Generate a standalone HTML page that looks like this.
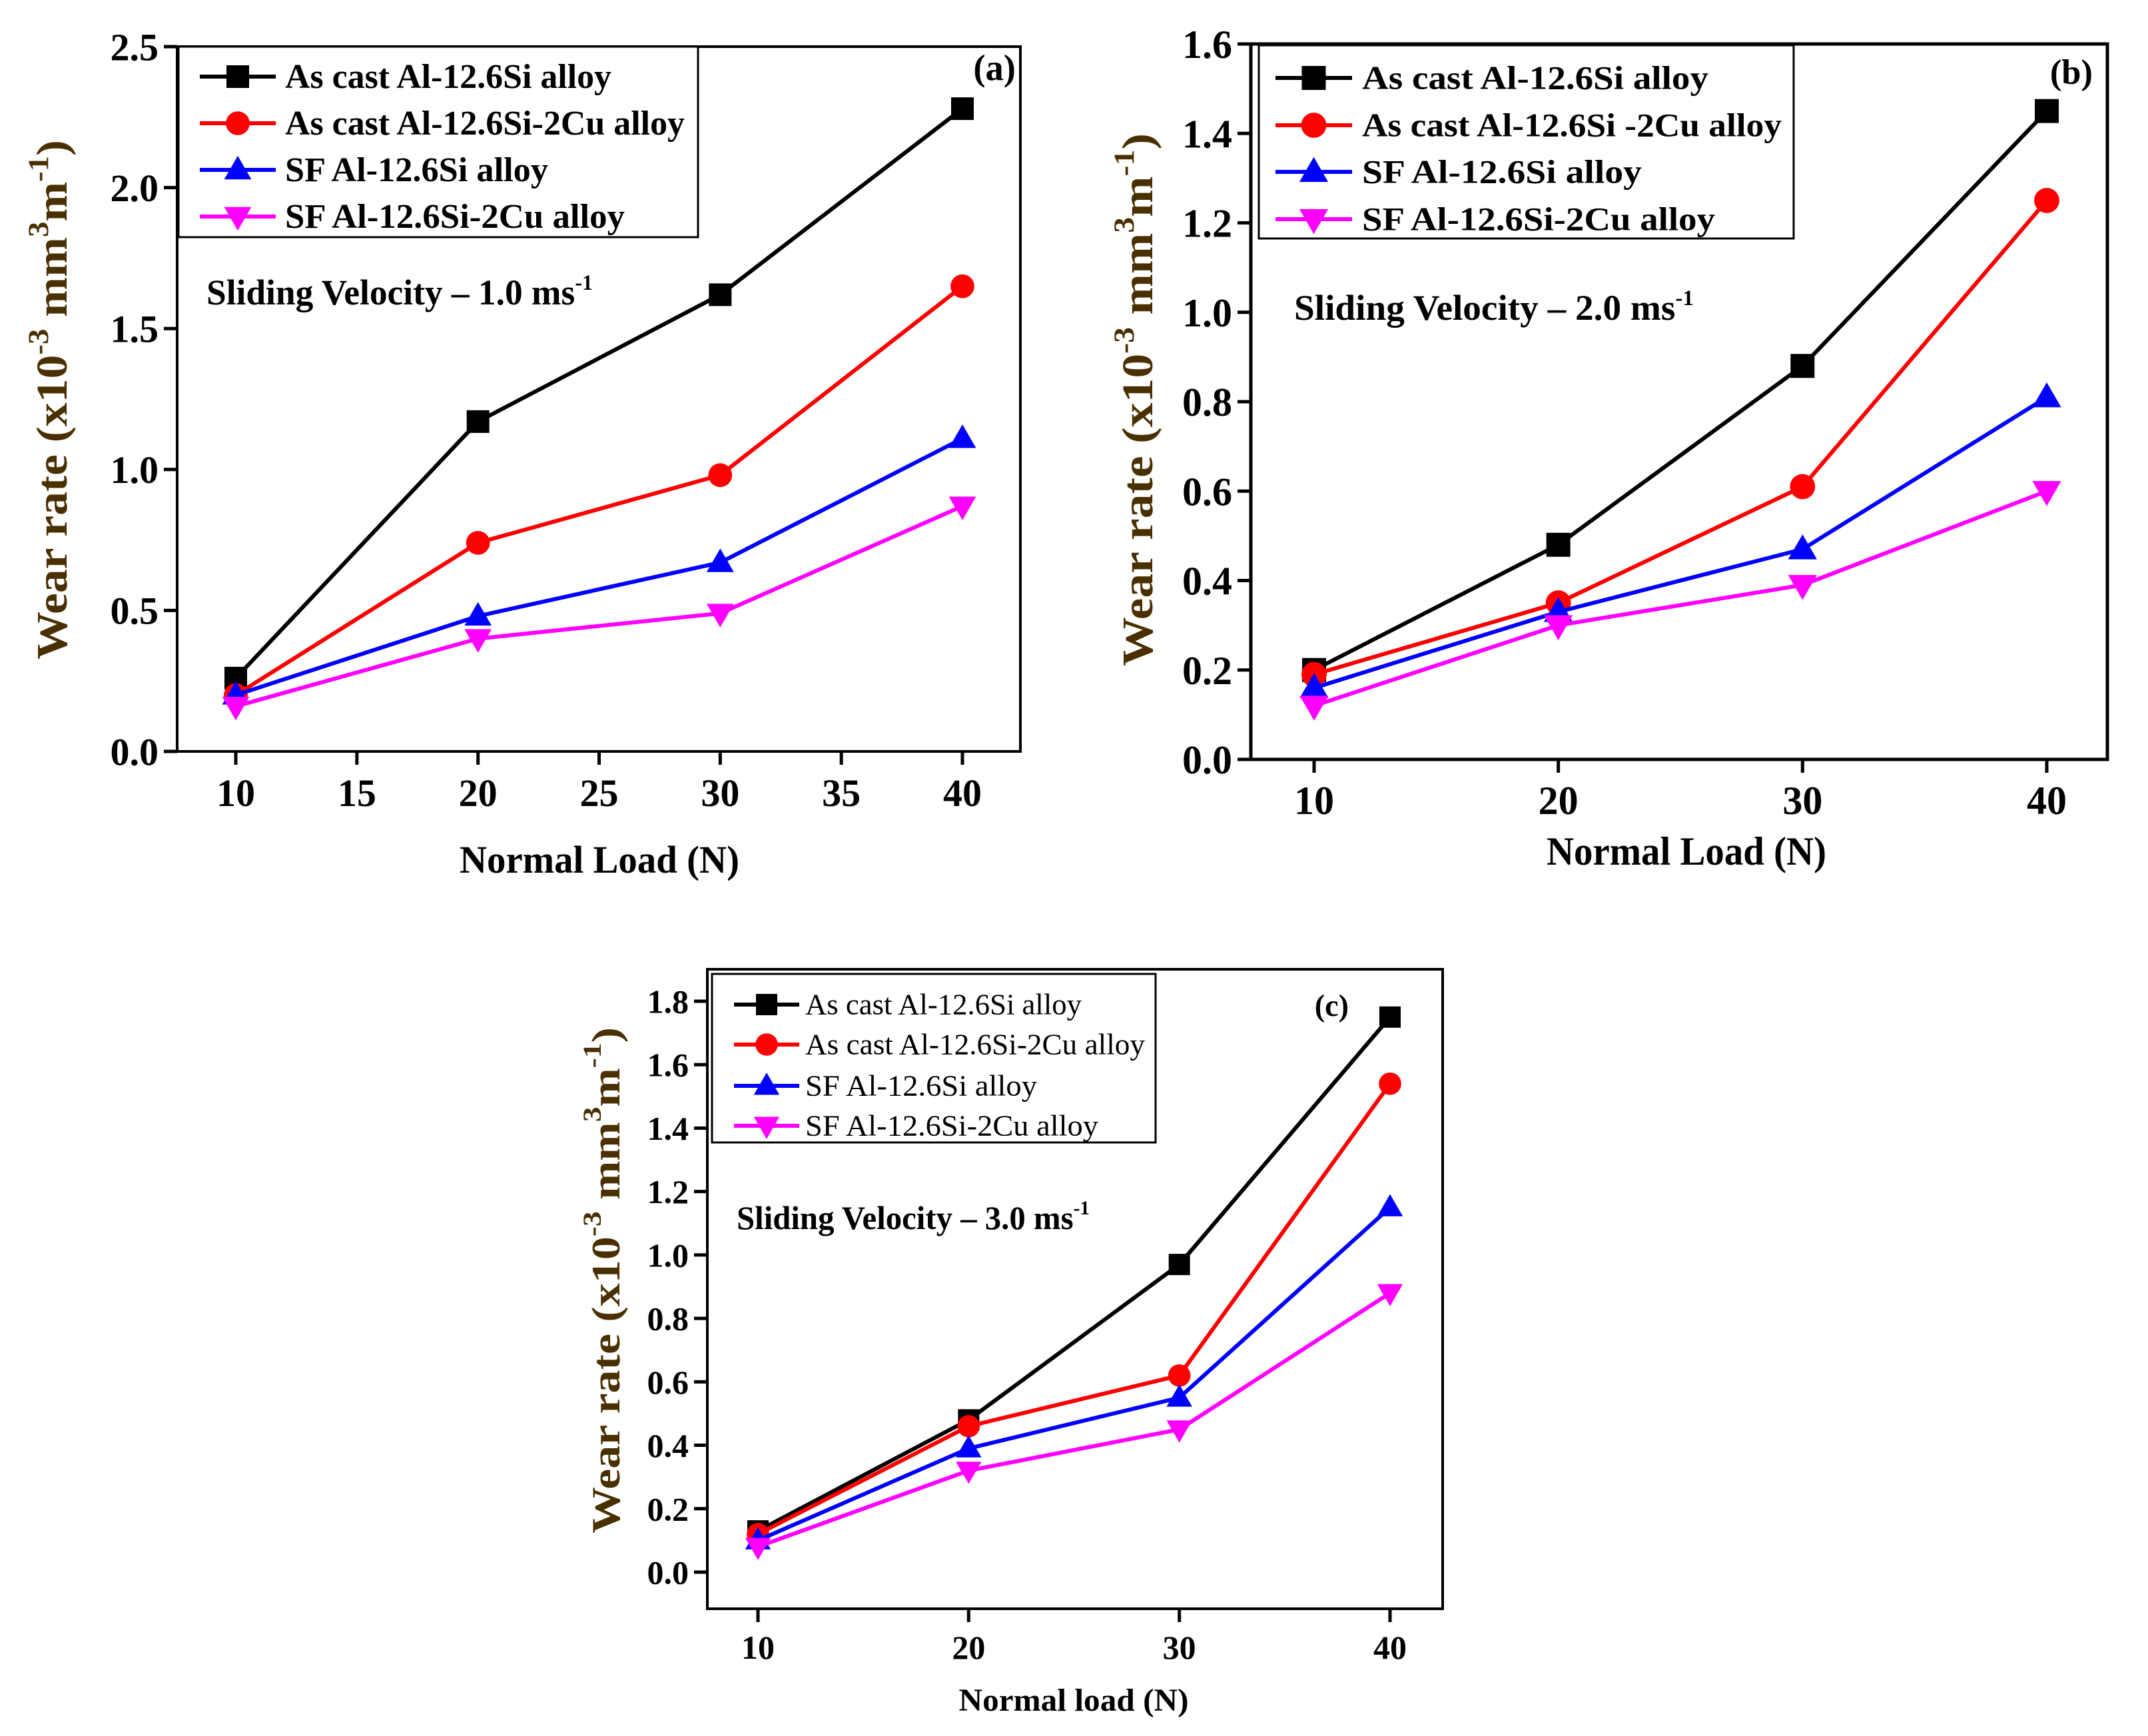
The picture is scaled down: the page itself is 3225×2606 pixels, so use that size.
<!DOCTYPE html>
<html><head><meta charset="utf-8">
<style>
html,body{margin:0;padding:0;background:#fff;}
svg{display:block;}
text{font-family:"Liberation Serif",serif;}
</style></head>
<body>
<svg id="fig" width="3225" height="2606" viewBox="0 0 3225 2606" xmlns="http://www.w3.org/2000/svg"></svg>
<script>
// ---- data ----
const loads = [10, 20, 30, 40];
const seriesNames = ["As cast Al-12.6Si alloy", "As cast Al-12.6Si-2Cu alloy", "SF Al-12.6Si alloy", "SF Al-12.6Si-2Cu alloy"];
const seriesNamesB = ["As cast Al-12.6Si  alloy", "As cast Al-12.6Si -2Cu alloy", "SF  Al-12.6Si alloy", "SF  Al-12.6Si-2Cu alloy"];
const seriesNamesC = ["As cast Al-12.6Si alloy", "As cast Al-12.6Si-2Cu alloy", "SF  Al-12.6Si alloy", "SF  Al-12.6Si-2Cu alloy"];
const aCastSi = [0.26, 1.17, 1.62, 2.28];
const aCastCu = [0.20, 0.74, 0.98, 1.65];
const aSfSi = [0.20, 0.48, 0.67, 1.11];
const aSfCu = [0.16, 0.40, 0.49, 0.87];
const bCastSi = [0.20, 0.48, 0.88, 1.45];
const bCastCu = [0.19, 0.35, 0.61, 1.25];
const bSfSi = [0.16, 0.33, 0.47, 0.81];
const bSfCu = [0.12, 0.30, 0.39, 0.60];
const cCastSi = [0.13, 0.48, 0.97, 1.75];
const cCastCu = [0.12, 0.46, 0.62, 1.54];
const cSfSi = [0.10, 0.39, 0.55, 1.15];
const cSfCu = [0.08, 0.32, 0.45, 0.88];
const aYTicks = ["0.0", "0.5", "1.0", "1.5", "2.0", "2.5"];
const aXTicks = ["10", "15", "20", "25", "30", "35", "40"];
const bYTicks = ["0.0", "0.2", "0.4", "0.6", "0.8", "1.0", "1.2", "1.4", "1.6"];
const bXTicks = ["10", "20", "30", "40"];
const cYTicks = ["0.0", "0.2", "0.4", "0.6", "0.8", "1.0", "1.2", "1.4", "1.6", "1.8"];
const cXTicks = ["10", "20", "30", "40"];

const colors = ["#000000", "#ff0000", "#0000ff", "#ff00ff"];
const markers = ["square", "circle", "up", "down"];
const NS = "http://www.w3.org/2000/svg";
const svg = document.getElementById("fig");

function mk(tag, attrs, parent) {
  const e = document.createElementNS(NS, tag);
  for (const k in attrs) e.setAttribute(k, attrs[k]);
  parent.appendChild(e);
  return e;
}
function marker(g, type, x, y, s, col) {
  let e;
  if (type === "square") e = mk("rect", {x: x - s/2, y: y - s/2, width: s, height: s, fill: col}, g);
  else if (type === "circle") e = mk("circle", {cx: x, cy: y, r: s/2 * 1.05, fill: col}, g);
  else if (type === "up") e = mk("polygon", {points: `${x},${y - s*0.62} ${x - s*0.6},${y + s*0.42} ${x + s*0.6},${y + s*0.42}`, fill: col}, g);
  else e = mk("polygon", {points: `${x},${y + s*0.62} ${x - s*0.6},${y - s*0.42} ${x + s*0.6},${y - s*0.42}`, fill: col}, g);
  
  
  return e;
}

function panel(p) {
  const g = mk("g", {}, svg);
  
  
  const xs = v => p.x0 + (v - p.xmin) / (p.xmax - p.xmin) * (p.x1 - p.x0);
  const ys = v => p.y0 - (v - p.ymin) / (p.ymax - p.ymin) * (p.y0 - p.y1);
  const fr = mk("rect", {x: p.L, y: p.T, width: p.R - p.L, height: p.B - p.T, fill: "none", stroke: "#000", "stroke-width": p.fw}, g);
  
  
  p.yTicks.forEach(t => {
    const v = parseFloat(t), y = ys(v);
    const tk = mk("line", {x1: p.L - 20, x2: p.L, y1: y, y2: y, stroke: "#000", "stroke-width": 5}, g);
    
    
    const tx = mk("text", {x: p.L - 28, y: y + p.tfs * 0.35, "text-anchor": "end", "font-size": p.tfs, "font-weight": "bold"}, g);
    tx.textContent = t;
    
    
  });
  p.xTicks.forEach(t => {
    const v = parseFloat(t), x = xs(v);
    const tk = mk("line", {x1: x, x2: x, y1: p.B, y2: p.B + 20, stroke: "#000", "stroke-width": 5}, g);
    
    
    const tx = mk("text", {x: x, y: p.xly, "text-anchor": "middle", "font-size": p.tfs, "font-weight": "bold"}, g);
    tx.textContent = t;
    
    
  });
  const xt = mk("text", {x: p.xtx, y: p.xty, "text-anchor": "middle", "font-size": p.xtfs, "font-weight": "bold", textLength: p.xtw, lengthAdjust: "spacingAndGlyphs"}, g);
  xt.textContent = p.xTitle;
  
  
  const yt = mk("text", {x: 0, y: 0, "text-anchor": "middle", "font-size": p.ytfs, "font-weight": "bold", fill: "#4a3000", transform: `translate(${p.ytx},${p.yty}) rotate(-90)`, textLength: p.ytw, lengthAdjust: "spacingAndGlyphs"}, g);
  yt.innerHTML = 'Wear rate (x10<tspan dy="-28" font-size="' + (p.ytfs*0.65) + '">-3</tspan><tspan dy="28"> mm</tspan><tspan dy="-28" font-size="' + (p.ytfs*0.65) + '">3</tspan><tspan dy="28">m</tspan><tspan dy="-28" font-size="' + (p.ytfs*0.65) + '">-1</tspan><tspan dy="28">)</tspan>';
  
  
  p.series.forEach((vals, i) => {
    const sg = mk("g", {}, g);
    
    
    const pts = vals.map((v, j) => xs(loads[j]) + "," + ys(v)).join(" ");
    const pl = mk("polyline", {points: pts, fill: "none", stroke: colors[i], "stroke-width": p.lw}, sg);
    
    
    vals.forEach((v, j) => marker(sg, markers[i], xs(loads[j]), ys(v), p.ms, colors[i]));
  });
  const lg = mk("g", {}, g);
  
  
  const lb = mk("rect", {x: p.lgx, y: p.lgy, width: p.lgw, height: p.lgh, fill: "#fff", stroke: "#000", "stroke-width": 3}, lg);
  
  
  p.names.forEach((n, i) => {
    const y = p.lrows[i];
    const ln = mk("line", {x1: p.lx0, x2: p.lx1, y1: y, y2: y, stroke: colors[i], "stroke-width": p.lw}, lg);
    
    
    marker(lg, markers[i], (p.lx0 + p.lx1)/2, y, p.ms, colors[i]);
    const t = mk("text", {x: p.ltx, y: y + p.lfs*0.33, "font-size": p.lfs, "font-weight": p.lbold ? "bold" : "normal", textLength: p.lw_[i], lengthAdjust: "spacingAndGlyphs"}, lg);
    t.textContent = n;
    
    
  });
  const lab = mk("text", {x: p.labx, y: p.laby, "text-anchor": "end", "font-size": p.lfs*1.05, "font-weight": "bold"}, g);
  lab.textContent = p.label;
  
  
  const sv = mk("text", {x: p.svx, y: p.svy, "font-size": p.svfs, "font-weight": "bold", textLength: p.svw, lengthAdjust: "spacingAndGlyphs"}, g);
  sv.innerHTML = p.sv + ' ms<tspan dy="-22" font-size="' + (p.svfs*0.6) + '">-1</tspan>';
  
  
}

panel({name: "panel-a", L: 266, R: 1532, T: 70, B: 1128, fw: 4,
  xmin: 10, xmax: 40, x0: 354, x1: 1445, ymin: 0, ymax: 2.5, y0: 1128, y1: 70,
  yTicks: aYTicks, xTicks: aXTicks, tfs: 58, xly: 1210,
  xTitle: "Normal Load (N)", xtx: 900, xty: 1310, xtfs: 58, xtw: 420,
  ytx: 100, yty: 600, ytfs: 66, ytw: 780,
  series: [aCastSi, aCastCu, aSfSi, aSfCu], lw: 6, ms: 34,
  names: seriesNames, lgx: 268, lgy: 70, lgw: 780, lgh: 286,
  lrows: [115, 185, 255, 325], lx0: 300, lx1: 414, ltx: 428, lfs: 52, lbold: true,
  lw_: [490, 600, 395, 510],
  label: "(a)", labx: 1525, laby: 120,
  sv: "Sliding Velocity – 1.0", svx: 310, svy: 457, svfs: 54, svw: 580});

panel({name: "panel-b", L: 1878, R: 3164, T: 66, B: 1140, fw: 5,
  xmin: 10, xmax: 40, x0: 1973, x1: 3073, ymin: 0, ymax: 1.6, y0: 1140, y1: 66,
  yTicks: bYTicks, xTicks: bXTicks, tfs: 60, xly: 1222,
  xTitle: "Normal Load (N)", xtx: 2532, xty: 1298, xtfs: 60, xtw: 420,
  ytx: 1730, yty: 600, ytfs: 66, ytw: 800,
  series: [bCastSi, bCastCu, bSfSi, bSfCu], lw: 6, ms: 36,
  names: seriesNamesB, lgx: 1890, lgy: 68, lgw: 803, lgh: 290,
  lrows: [117, 188, 258, 329], lx0: 1915, lx1: 2030, ltx: 2045, lfs: 50, lbold: true,
  lw_: [520, 630, 420, 530],
  label: "(b)", labx: 3142, laby: 126,
  sv: "Sliding Velocity – 2.0", svx: 1943, svy: 480, svfs: 54, svw: 600});

panel({name: "panel-c", L: 1062, R: 2166, T: 1455, B: 2415, fw: 4,
  xmin: 10, xmax: 40, x0: 1138, x1: 2087, ymin: 0, ymax: 1.8, y0: 2360, y1: 1503,
  yTicks: cYTicks, xTicks: cXTicks, tfs: 50, xly: 2490,
  xTitle: "Normal load (N)", xtx: 1612, xty: 2568, xtfs: 48, xtw: 345,
  ytx: 930, yty: 1922, ytfs: 60, ytw: 760,
  series: [cCastSi, cCastCu, cSfSi, cSfCu], lw: 6, ms: 32,
  names: seriesNamesC, lgx: 1069, lgy: 1462, lgw: 666, lgh: 253,
  lrows: [1508, 1568, 1630, 1690], lx0: 1102, lx1: 1200, ltx: 1209, lfs: 44, lbold: false,
  lw_: [415, 510, 348, 440],
  label: "(c)", labx: 2025, laby: 1525,
  sv: "Sliding Velocity – 3.0", svx: 1106, svy: 1845, svfs: 50, svw: 530});
</script>
</body></html>
